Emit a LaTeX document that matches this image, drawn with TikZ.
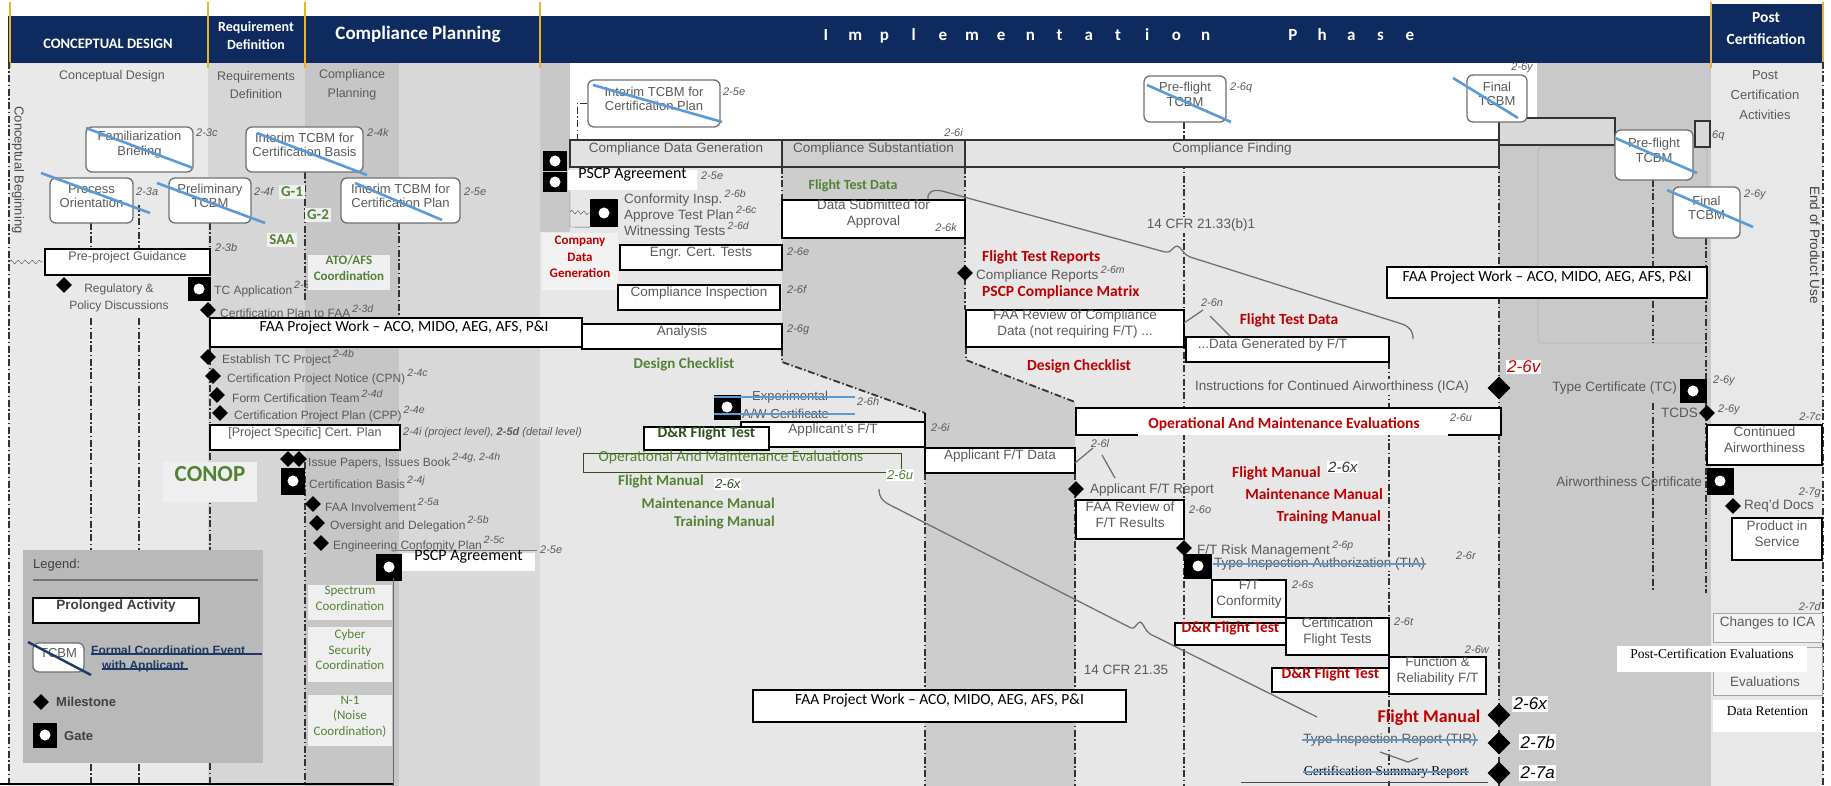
\documentclass[tikz,border=0pt]{standalone}
\usepackage{fontspec}
\setmainfont{Liberation Sans}
\newfontfamily\calib{Carlito}
\newfontfamily\timesf{Liberation Serif}
\usetikzlibrary{shapes.geometric,fit,decorations.pathmorphing}
\definecolor{navy}{HTML}{0F2A5E}
\definecolor{gold}{HTML}{E8B32A}
\definecolor{tgray}{HTML}{5A5A5A}
\definecolor{ogreen}{HTML}{548235}
\definecolor{dgreen}{HTML}{30501C}
\definecolor{dred}{HTML}{C00000}
\definecolor{sblue}{HTML}{5B9BD5}
\definecolor{lnavy}{HTML}{1F3864}
\definecolor{bxgray}{HTML}{707070}
\definecolor{cA}{HTML}{E9E9E9}
\definecolor{cB}{HTML}{D6D6D6}
\definecolor{cC}{HTML}{C6C6C6}
\definecolor{cD}{HTML}{D8D8D8}
\definecolor{cStrip}{HTML}{C8C8C8}
\definecolor{cImpl}{HTML}{E7E7E7}
\definecolor{cBand}{HTML}{CDCDCD}
\definecolor{cR}{HTML}{C9C9C9}
\definecolor{cPost}{HTML}{E8E8E8}
\definecolor{cLeg}{HTML}{B9B9B9}
\definecolor{cTag}{HTML}{EFEFEF}
\definecolor{cFaint}{HTML}{B5B5B5}
\definecolor{cdgF}{HTML}{E2E2E2}
\definecolor{csubF}{HTML}{D0D0D0}
\definecolor{cfindF}{HTML}{E4E4E4}
\definecolor{cGb}{HTML}{D9D9D9}
\definecolor{cLt}{HTML}{F2F2F2}
\definecolor{brc}{HTML}{707070}
\newcommand{\refsup}[1]{\,\raisebox{0.45em}{\fontsize{10.5}{11}\selectfont\itshape #1}}
\tikzset{
  gt/.style={font=\fontsize{13.5}{15}\selectfont, text=tgray, inner sep=0pt},
  gs/.style={font=\fontsize{12}{13.5}\selectfont, text=tgray, inner sep=0pt, anchor=west},
  rbox/.style={draw=bxgray, line width=1.3, rounded corners=6, fill=white, align=center, font=\fontsize{13}{14.5}\selectfont, text=tgray, inner sep=0pt},
  pbox/.style={draw=black, line width=1.8, fill=white, align=center, font=\fontsize{13.5}{16}\selectfont, text=tgray, inner sep=0pt},
  rowbox/.style={draw=black!80, line width=1.8, align=center, font=\fontsize{13.5}{15}\selectfont, text=tgray, inner sep=0pt},
  faabox/.style={draw=black, line width=2, fill=white, font=\calib\fontsize{15.5}{17}\selectfont, text=black, inner sep=0pt},
  ms/.style={diamond, fill=black, minimum width=16, minimum height=16, inner sep=0pt},
  msl/.style={diamond, fill=black, minimum width=23, minimum height=23, inner sep=0pt},
  gate/.style={rectangle, fill=black, minimum width=24, minimum height=25, inner sep=0pt, path picture={\fill[white] (path picture bounding box.center) circle (5.5pt);}},
  stk/.style={draw=sblue, line width=2.6},
  dd/.style={draw=black!80, line width=1.2, dash pattern=on 7pt off 2.5pt on 1.5pt off 2.5pt},
  rf/.style={font=\fontsize{11}{12}\selectfont\itshape, text=tgray, inner sep=1pt},
  rfb/.style={font=\fontsize{17}{18}\selectfont\itshape, text=black, fill=white, inner sep=1.5pt},
  grn/.style={font=\calib\bfseries\fontsize{15}{17}\selectfont, text=ogreen, inner sep=1pt},
  rtx/.style={font=\calib\bfseries\fontsize{15.5}{17}\selectfont, text=dred, inner sep=1pt},
  gtag/.style={fill=cTag, font=\calib\bfseries\fontsize{15}{17}\selectfont, text=ogreen, inner sep=2pt},
  coordbox/.style={fill=cTag, align=center, font=\calib\fontsize{13}{15.5}\selectfont, text=ogreen, inner sep=0pt},
  hdr/.style={font=\calib\bfseries\fontsize{17}{19}\selectfont, text=white, inner sep=0pt},
  bline/.style={draw=brc, line width=1.3},
  wlab/.style={fill=white, font=\calib\fontsize{16}{18}\selectfont, text=black, inner sep=0pt},
}
\begin{document}
\begin{tikzpicture}[x=1pt,y=-1pt]
\path[use as bounding box] (0,0) rectangle (1831,786);
\fill[white] (0,0) rectangle (1831,786);
% ---------- backgrounds
\fill[cImpl] (8,62) rectangle (1823,786);
\fill[cA] (8,62) rectangle (208,786);
\fill[cB] (208,62) rectangle (305,786);
\fill[cC] (305,62) rectangle (399,786);
\fill[cD] (399,62) rectangle (540,786);
\fill[cStrip] (540,62) rectangle (570,232);
\fill[white] (570,62) rectangle (1537,140);
\fill[cBand] (782,167) -- (965,167) -- (965,360) -- (1075,402) -- (1075,786) -- (925,786) -- (925,413) -- (782,362) -- cycle;
\fill[cR] (1499,140) rectangle (1711,786);
\fill[cR] (1537,62) rectangle (1711,140);
\fill[cPost] (1711,62) rectangle (1823,786);
\draw[cFaint, line width=0.8, rounded corners=4] (1538,147) rectangle (1707,343);
% ---------- header
\fill[navy] (8,16) rectangle (1711,63);
\fill[navy] (1711,4) rectangle (1823,63);
\foreach \gx in {10,208,305,540,1711,1823} \draw[gold, line width=2] (\gx,2) -- (\gx,68);
\node[hdr, font=\calib\bfseries\fontsize{14.5}{16}\selectfont] (hCD) at (108,44) {CONCEPTUAL DESIGN};
\node[hdr, align=center, font=\calib\bfseries\fontsize{14}{18}\selectfont] (hRD) at (256,36) {Requirement\\Definition};
\node[hdr, font=\calib\bfseries\fontsize{19}{21}\selectfont] (hCP) at (418,34) {Compliance Planning};
\foreach \ch [count=\i from 0] in {I,m,p,l,e,m,e,n,t,a,t,i,o,n} {\node[hdr, anchor=base] (im\i) at (826+\i*29.2,41) {\ch};}
\foreach \ch [count=\i from 0] in {P,h,a,s,e} {\node[hdr, anchor=base] (ph\i) at (1293+\i*29.2,41) {\ch};}
\node[hdr, align=center, font=\calib\bfseries\fontsize{15.5}{22}\selectfont] (hPC) at (1766,29) {Post\\Certification};
% ---------- guide lines
\draw[dd] (9,62) -- (9,786);
\draw[dd] (91,223) -- (91,249) (91,318) -- (91,786);
\draw[dd] (139,205) -- (139,249) (139,318) -- (139,786);
\draw[dd] (210,223) -- (210,786);
\draw[dd] (305,172) -- (305,300) (305,462) -- (305,786);
\draw[dd] (399,223) -- (399,317);
\draw[dd] (782,167) -- (782,200);
\draw[dd] (965,167) -- (965,200) (965,238) -- (965,310);
\draw[dd, line width=1.8] (782,349) -- (782,362) -- (925,413);
\draw[dd, line width=1.8] (966,347) -- (966,360) -- (1075,402);
\draw[line width=1.5] (925,413) -- (925,448);
\draw[dd] (925,473) -- (925,786);
\draw[dd] (1075,473) -- (1075,786);
\draw[dd] (1184,122) -- (1184,786);
\draw[dd] (1389,362) -- (1389,786);
\draw[dd] (1499,122) -- (1499,786);
\draw[dd] (1653,180) -- (1653,343) (1653,403) -- (1653,590);
\draw[dd] (1706,238) -- (1706,593);
\draw[dd] (1823,62) -- (1823,786);
% ---------- column titles
\node[gt, font=\fontsize{12.5}{14}\selectfont] (tCD) at (112,76) {Conceptual Design};
\node[gt, align=center, font=\fontsize{12.5}{18.5}\selectfont] (tRD) at (256,85) {Requirements\\Definition};
\node[gt, align=center, font=\fontsize{12.5}{18.5}\selectfont] (tCP) at (352,85) {Compliance\\Planning};
\node[gt, rotate=-90, font=\fontsize{13}{14}\selectfont, text=black!70] (cBeg) at (18,170) {Conceptual Beginning};
\node[gt, align=center, font=\fontsize{13}{20}\selectfont] (tPCA) at (1765,95) {Post\\Certification\\Activities};
\node[gt, rotate=-90, font=\fontsize{13.5}{15}\selectfont, text=black!75] (eopu) at (1815,245) {End of Product Use};
% ---------- conceptual / requirements / planning
\node[rbox, fit={(86,127) (193,172)}] (fam) {Familiarization\\Briefing};
\node[rbox, fit={(50,178) (133,223)}] (proc) {Process\\Orientation};
\node[rbox, fit={(169,178) (251,223)}] (prel) {Preliminary\\TCBM};
\node[rbox, fit={(246,127) (363,172)}] (itcb) {Interim TCBM for\\Certification Basis};
\node[rbox, fit={(341,178) (460,223)}] (itcp) {Interim TCBM for\\Certification Plan};
\node[rf, anchor=west] (r23c) at (195,133) {2-3c};
\node[rf, anchor=west] (r23a) at (135,192) {2-3a};
\node[rf, anchor=west] (r24f) at (253,192) {2-4f};
\node[rf, anchor=west] (r24k) at (366,133) {2-4k};
\node[rf, anchor=west] (r25e) at (463,192) {2-5e};
\node[rf, anchor=west] (r23b) at (214,248) {2-3b};
\node[gtag] (g1) at (292,192) {G-1};
\node[gtag] (g2) at (318,215) {G-2};
\node[gtag] (saa) at (282,240) {SAA};
\node[pbox, font=\fontsize{12.5}{14}\selectfont, fit={(45,249) (210,275)}] (ppg) {Pre-project Guidance};
\coordinate (cbeg) at (9,262);
\draw[decorate, decoration={snake, amplitude=1.8pt, segment length=7pt}, black!70] (cbeg) -- (ppg.west);
\node[ms] (dReg) at (64,285) {};
\node[gs, anchor=center, align=center, font=\fontsize{12}{17}\selectfont] (tReg) at (119,298) {Regulatory \&\\Policy Discussions};
\node[gate, minimum width=23, minimum height=24] (gTC) at (199,289) {};
\node[gs] (tTC) at (214,289) {TC Application\refsup{2-3b}};
\node[coordbox, font=\calib\bfseries\fontsize{13}{16}\selectfont, fit={(308,255) (390,290)}] (ato) {ATO/AFS\\Coordination};
\node[ms] (dCP) at (208,310) {};
\node[gs] (tCPF) at (220,311) {Certification Plan to FAA\refsup{2-3d}};
\node[faabox, fit={(210,318) (582,347)}] (faa1) {\hspace*{16pt}FAA Project Work – ACO, MIDO, AEG, AFS, P\&I};
\node[ms] (dEst) at (208,357) {};
\node[gs] (tEst) at (222,358) {Establish TC Project\refsup{2-4b}};
\node[ms] (dCPN) at (213,376) {};
\node[gs] (tCPN) at (227,377) {Certification Project Notice (CPN)\refsup{2-4c}};
\node[ms] (dFCT) at (217,395) {};
\node[gs] (tFCT) at (232,396) {Form Certification Team\refsup{2-4d}};
\node[ms] (dCPP) at (220,413) {};
\node[gs] (tCPP) at (234,414) {Certification Project Plan (CPP)\refsup{2-4e}};
\node[pbox, font=\fontsize{12.5}{14}\selectfont, fit={(210,425) (400,450)}] (psc) {[Project Specific] Cert. Plan};
\node[rf, anchor=west] (r24i) at (402,433) {2-4i (project level), \textbf{2-5d} (detail level)};
\node[ms] (dIP1) at (288,459) {};
\node[ms] (dIP2) at (299,459) {};
\node[gs] (tIP) at (308,461) {Issue Papers, Issues Book\refsup{2-4g, 2-4h}};
\node[gate, minimum width=24, minimum height=27] (gCB) at (293,481) {};
\node[gs] (tCB) at (309,482) {Certification Basis\refsup{2-4j}};
\node[fill=cTag, fit={(163,462) (257,502)}, inner sep=0pt, font=\calib\bfseries\fontsize{23}{25}\selectfont, text=ogreen] (conop) {CONOP};
\node[ms] (dFI) at (313,504) {};
\node[gs] (tFI) at (325,505) {FAA Involvement\refsup{2-5a}};
\node[ms] (dOD) at (317,523) {};
\node[gs] (tOD) at (330,524) {Oversight and Delegation\refsup{2-5b}};
\node[ms] (dECP) at (321,543) {};
\node[gs] (tECP) at (333,544) {Engineering Confomity Plan\refsup{2-5c}};
\draw[black!50, line width=1] (395,550) -- (537,550);
\node[gate, minimum width=26, minimum height=27] (gPS) at (389,567) {};
\node[wlab, fit={(402,553) (535,571)}] (pscp1) {PSCP Agreement};
\node[rf, anchor=west] (r25e3) at (539,550) {2-5e};
\draw[black!60, line width=1] (393,578) -- (393,786);
\node[coordbox, fit={(308,585) (392,620)}] (spec) {Spectrum\\Coordination};
\node[coordbox, fit={(308,627) (392,682)}] (cyber) {Cyber\\Security\\Coordination};
\node[coordbox, fit={(308,695) (392,746)}] (noise) {N-1\\(Noise\\Coordination)};
\draw[line width=1.5] (0,784) -- (393,784);
% ---------- legend
\fill[cLeg] (23,550) rectangle (263,763);
\node[anchor=west, font=\fontsize{13}{14}\selectfont, text=black!75, inner sep=0pt] (lgT) at (33,565) {Legend:};
\draw[black!55, line width=1.5] (33,580) -- (258,580);
\node[pbox, font=\bfseries\fontsize{13.5}{15}\selectfont, text=black!75, fit={(33,598) (199,623)}] (lPA) {Prolonged Activity};
\node[rbox, fit={(33,643) (84,672)}] (lTC) {TCBM};
\node[anchor=west, align=left, font=\bfseries\fontsize{12}{15}\selectfont, text=lnavy, inner sep=0pt] (lFC) at (91,659) {Formal Coordination Event\\\hspace*{11pt}with Applicant};
\draw[lnavy, line width=2.4] (28,642) -- (91,675);
\draw[lnavy, line width=1.8] (91,654) -- (262,654) (102,669) -- (188,669);
\node[ms] (lMS) at (41,702) {};
\node[anchor=west, font=\bfseries\fontsize{13}{14}\selectfont, text=black!75, inner sep=0pt] (lMSt) at (56,702) {Milestone};
\node[gate] (lG) at (45,735) {};
\node[anchor=west, font=\bfseries\fontsize{13}{14}\selectfont, text=black!75, inner sep=0pt] (lGt) at (64,736) {Gate};
% ---------- implementation top
\node[rbox, fit={(588,80) (720,127)}] (itcp2) {Interim TCBM for\\Certification Plan};
\node[rf, anchor=west] (r25e2) at (722,92) {2-5e};
\node[rowbox, fill=cdgF, fit={(570,140) (782,167)}] (cdg) {Compliance Data Generation};
\node[rowbox, fill=csubF, fit={(782,140) (965,167)}] (csub) {Compliance Substantiation};
\node[rowbox, fill=cfindF, fit={(965,140) (1499,167)}] (cfind) {Compliance Finding};
\draw[dd] (itcp2.west) -| ([xshift=8pt]cdg.north west);
\node[rf, anchor=east] (r26i1) at (964,133) {2-6i};
\node[rowbox, fill=cGb, line width=1.2, fit={(1499,118) (1615,145)}] (gbx) {};
\node[rowbox, fill=cGb, line width=1.2, fit={(1695,121) (1710,147)}] (sbx) {};
\node[rf, anchor=west] (r6q) at (1711,136) {6q};
\node[rbox, fit={(1144,76) (1226,122)}] (pft) {Pre-flight\\TCBM};
\node[rf, anchor=west] (r26q) at (1229,88) {2-6q};
\node[rbox, fit={(1467,75) (1527,122)}] (ft1) {Final\\TCBM};
\node[rf] (r26y1) at (1522,68) {2-6y};
\node[rbox, fit={(1615,130) (1693,180)}] (pft2) {Pre-flight\\TCBM};
\node[rbox, fit={(1673,187) (1740,238)}] (ft2) {Final\\TCBM};
\node[rf, anchor=west] (r26y2) at (1743,195) {2-6y};
% ---------- compliance data generation column
\node[gate, minimum height=20] (gA) at (555,161) {};
\node[gate, minimum height=20] (gB) at (555,182) {};
\node[wlab, fit={(568,170) (697,190)}] (pscp2) {PSCP Agreement};
\node[rf, anchor=west] (r25e4) at (700,176) {2-5e};
\node[gate, minimum width=28, minimum height=28] (gC) at (604,213) {};
\draw[black!70] (570,192) -- (570,227) -- (gC.south west);
\coordinate (wv) at (570,212);
\draw[decorate, decoration={snake, amplitude=1.8pt, segment length=6pt}, black!70] (wv) -- (gC.west);
\node[gt, anchor=west] (tCI) at (624,198) {Conformity Insp.\refsup{2-6b}};
\node[gt, anchor=west] (tAT) at (624,214) {Approve Test Plan\refsup{2-6c}};
\node[gt, anchor=west] (tWT) at (624,230) {Witnessing Tests\refsup{2-6d}};
\node[fill=cLt, fit={(542,233) (618,290)}, inner sep=0pt, align=center, font=\calib\bfseries\fontsize{13}{16.5}\selectfont, text=dred] (cdgen) {Company\\Data\\Generation};
\node[pbox, fit={(620,245) (782,270)}] (engr) {Engr. Cert. Tests};
\node[rf, anchor=west] (r26e) at (786,252) {2-6e};
\node[pbox, fit={(618,285) (780,310)}] (cinsp) {Compliance Inspection};
\node[rf, anchor=west] (r26f) at (786,290) {2-6f};
\node[pbox, fit={(582,324) (782,349)}] (anal) {Analysis};
\node[rf, anchor=west] (r26g) at (786,330) {2-6g};
\node[pbox, fit={(782,200) (965,238)}] (dsub) {Data Submitted for\\Approval};
\node[rf, anchor=east] (r26k) at (958,228) {2-6k};
\node[grn, font=\calib\bfseries\fontsize{14}{16}\selectfont] (ftdg) at (853,186) {Flight Test Data};
\node[grn] (dcg) at (684,365) {Design Checklist};
\node[gate, minimum width=27, minimum height=25] (gEx) at (727,407) {};
\node[gt, anchor=west, font=\fontsize{13}{14}\selectfont] (tEx1) at (752,397) {Experimental};
\node[gt, anchor=west, font=\fontsize{13}{14}\selectfont] (tEx2) at (742,414) {A/W Certificate};
\node[rf, anchor=west] (r26h) at (856,402) {2-6h};
\node[pbox, fit={(741,422) (925,447)}] (apft) {Applicant's F/T};
\node[rf, anchor=west] (r26i2) at (930,428) {2-6i};
\node[pbox, fit={(644,427) (769,450)}, font=\calib\bfseries\fontsize{15.5}{17}\selectfont, text=dgreen] (drg) {D\&R Flight Test};
\node[draw=dgreen, line width=0.8, fit={(583,453) (901,472)}, inner sep=0pt, font=\calib\fontsize{15.5}{17}\selectfont, text=ogreen] (omg) {Operational And Maintenance Evaluations\hspace*{22pt}};
\node[fill=white, font=\fontsize{13}{14}\selectfont\itshape, text=ogreen, inner sep=1pt] (r26ug) at (900,475) {2-6u};
\node[grn, anchor=west] (fmg) at (617,482) {Flight Manual};
\node[fill=white, font=\fontsize{13}{14}\selectfont\itshape, text=ogreen!60!black, inner sep=1pt, anchor=west] (r26xg) at (714,484) {2-6x};
\node[grn, anchor=east] (mmg) at (776,503) {Maintenance Manual};
\node[grn, anchor=east] (tmg) at (776,523) {Training Manual};
% ---------- compliance finding column
\node[ms] (dCR) at (965,273) {};
\node[rtx, anchor=west] (tFTR) at (981,257) {Flight Test Reports};
\node[gt, anchor=west] (tCR) at (976,274) {Compliance Reports\refsup{2-6m}};
\node[rtx, anchor=west] (tPCM) at (981,292) {PSCP Compliance Matrix};
\node[gt, fill=cImpl, inner sep=1.5pt] (cfr33) at (1201,225) {14 CFR 21.33(b)1};
\node[pbox, fit={(966,310) (1184,347)}] (frc) {FAA Review of Compliance\\Data (not requiring F/T) ...};
\node[pbox, fit={(1186,337) (1389,362)}] (dgf) {...Data Generated by F/T\hspace*{30pt}};
\node[rtx] (ftdr) at (1289,320) {Flight Test Data};
\draw[bline] (1184,323) -- (1203,310) (1210,316) -- (1230,336);
\node[rf] (r26n) at (1212,303) {2-6n};
\node[rtx] (dcr) at (1079,366) {Design Checklist};
\node[faabox, fit={(1387,267) (1707,298)}] (faa2) {FAA Project Work – ACO, MIDO, AEG, AFS, P\&I};
\node[gt, fill=cImpl, inner sep=1.5pt] (tICA) at (1332,387) {Instructions for Continued Airworthiness (ICA)};
\node[msl] (dICA) at (1499,388) {};
\node[font=\fontsize{17}{18}\selectfont\itshape, text=dred, fill=white, inner sep=1pt, anchor=west] (r26v) at (1506,367) {2-6v};
\fill[white] (1076,408) rectangle (1501,435);
\draw[line width=1.8] (1138,435) -- (1076,435) -- (1076,408) -- (1501,408) -- (1501,435) -- (1448,435);
\node[rtx, fill=white] (omr) at (1284,424) {Operational And Maintenance Evaluations};
\node[rf, fill=white] (r26u) at (1461,418) {2-6u};
\node[pbox, fit={(925,448) (1075,473)}] (apftd) {Applicant F/T Data};
\draw[bline] (1075,463) -- (1093,448) (1102,455) -- (1115,478);
\node[rf] (r26l) at (1100,444) {2-6l};
\node[ms] (dApr) at (1076,489) {};
\node[gt, anchor=west] (tApr) at (1090,490) {Applicant F/T Report};
\node[rtx, anchor=west] (fmr) at (1231,473) {Flight Manual};
\node[fill=white, font=\fontsize{15}{16}\selectfont\itshape, text=black!80, inner sep=1pt, anchor=west] (r26x1) at (1327,467) {2-6x};
\node[rtx, anchor=east] (mmr) at (1384,494) {Maintenance Manual};
\node[rtx, anchor=east] (tmr) at (1382,517) {Training Manual};
\node[pbox, fit={(1076,500) (1184,539)}] (frr) {FAA Review of\\F/T Results};
\node[rf, anchor=west] (r26o) at (1188,510) {2-6o};
\node[ms] (dRisk) at (1184,548) {};
\node[gt, anchor=west] (tRisk) at (1197,549) {F/T Risk Management\refsup{2-6p}};
\node[gate, minimum width=28, minimum height=25] (gTIA) at (1198,566) {};
\node[gt, anchor=west, fill=cImpl, inner sep=1pt] (tTIA) at (1213,564) {Type Inspection Authorization (TIA)};
\node[rf, anchor=west] (r26r) at (1455,556) {2-6r};
\node[pbox, fit={(1212,580) (1286,617)}] (ftc) {F/T\\Conformity};
\node[rf, anchor=west] (r26s) at (1291,585) {2-6s};
\node[pbox, fit={(1286,618) (1389,655)}] (cft) {Certification\\Flight Tests};
\node[rf, anchor=west] (r26t) at (1393,622) {2-6t};
\node[pbox, line width=1.3, fit={(1175,623) (1286,645)}, font=\calib\bfseries\fontsize{15.5}{17}\selectfont, text=dred] (drr1) {D\&R Flight Test};
\node[pbox, fit={(1389,657) (1486,694)}] (fnr) {Function \&\\Reliability F/T};
\node[rf, anchor=east] (r26w) at (1490,650) {2-6w};
\node[pbox, line width=1.3, fit={(1272,668) (1389,692)}, font=\calib\bfseries\fontsize{15.5}{17}\selectfont, text=dred] (drr2) {D\&R Flight Test};
\node[gt] (cfr35) at (1126,670) {14 CFR 21.35};
\node[faabox, fit={(753,690) (1126,722)}] (faa3) {FAA Project Work – ACO, MIDO, AEG, AFS, P\&I};
\node[rtx, font=\calib\bfseries\fontsize{18}{20}\selectfont] (fmr2) at (1429,718) {Flight Manual};
\node[msl] (d26x) at (1499,715) {};
\node[rfb, anchor=west] (r26x2) at (1512,704) {2-6x};
\node[gt, fill=cImpl, inner sep=1pt] (tTIR) at (1390,740) {Type Inspection Report (TIR)};
\node[msl] (d27b) at (1499,743) {};
\node[rfb, anchor=west] (r27b) at (1519,742) {2-7b};
\node[font=\timesf\fontsize{13.5}{15}\selectfont, fill=cImpl, inner sep=1pt, text=black] (tCSR) at (1386,772) {Certification Summary Report};
\node[msl] (d27a) at (1499,773) {};
\node[rfb, anchor=west] (r27a) at (1519,773) {2-7a};
\draw[black!70] (1241,782) -- (1488,782);
\draw[bline] (1380,752) -- (1408,762) -- (1418,758);
% ---------- long braces
\draw[bline] (928,199) .. controls (927,192) and (933,189) .. (942,191) -- (1165,252) .. controls (1171,254) and (1173,246) .. (1177,246) .. controls (1181,246) and (1183,255) .. (1190,257) -- (1402,324) .. controls (1410,327) and (1413,331) .. (1413,339);
\draw[bline] (879,489) .. controls (879,497) and (882,501) .. (890,505) -- (1131,628) .. controls (1135,630) and (1137,622) .. (1140,622) .. controls (1143,622) and (1145,631) .. (1150,634) -- (1317,717);
% ---------- post certification
\node[gt, anchor=east] (tTCt) at (1677,388) {Type Certificate (TC)};
\node[gate, minimum width=27, minimum height=24] (gTCc) at (1693,391) {};
\node[rf, anchor=west] (r26y3) at (1712,381) {2-6y};
\node[ms] (dTCDS) at (1707,413) {};
\node[gt, anchor=east] (tTCDS) at (1698,413) {TCDS};
\node[rf, anchor=west] (r26y4) at (1717,410) {2-6y};
\node[rf, anchor=east] (r27c) at (1822,417) {2-7c};
\node[pbox, fit={(1707,425) (1822,465)}] (cAW) {Continued\\Airworthiness};
\node[gt, anchor=east] (tAWC) at (1702,482) {Airworthiness Certificate};
\node[gate, minimum width=27, minimum height=27] (gAWC) at (1720,481) {};
\node[ms] (dRD) at (1733,506) {};
\node[gt, anchor=west] (tRD2) at (1744,506) {Req'd Docs};
\node[rf, anchor=east] (r27g) at (1822,493) {2-7g};
\node[pbox, fit={(1732,518) (1822,560)}] (pis) {Product in\\Service};
\node[rf, anchor=east] (r27d) at (1822,607) {2-7d};
\node[draw=black!35, fill=cLt, fit={(1713,613) (1822,642)}, inner sep=0pt, font=\fontsize{13.5}{15}\selectfont, text=tgray] (cICA) {Changes to ICA};
\node[draw=black!35, fill=cLt, fit={(1713,647) (1822,695)}, inner sep=0pt] (evb) {};
\node[gt] (tEv) at (1765,682) {Evaluations};
\node[fill=white, font=\timesf\fontsize{13.5}{15}\selectfont, text=black, fit={(1617,646) (1807,672)}, inner sep=0pt] (pce) {Post-Certification Evaluations};
\node[fill=white, font=\timesf\fontsize{13.5}{15}\selectfont, text=black, fit={(1713,700) (1822,732)}, inner sep=0pt] (dret) {Data Retention};
% ---------- strike-outs
\draw[stk] (86,128) -- (193,168);
\draw[stk] (41,173) -- (150,213);
\draw[stk] (157,183) -- (265,223);
\draw[stk] (257,133) -- (367,175);
\draw[stk] (355,183) -- (442,220);
\draw[stk] (593,85) -- (722,122);
\draw[stk] (1147,85) -- (1231,122);
\draw[stk] (1453,78) -- (1518,118);
\draw[stk] (1615,138) -- (1697,173);
\draw[stk] (1667,190) -- (1753,227);
\draw[stk] (714,397) -- (855,397) (714,414) -- (855,414);
\draw[stk] (tTIA.west) -- (tTIA.east);
\draw[stk] (tTIR.west) -- (tTIR.east);
\draw[stk] (tCSR.west) -- (tCSR.east);
\end{tikzpicture}
\end{document}
